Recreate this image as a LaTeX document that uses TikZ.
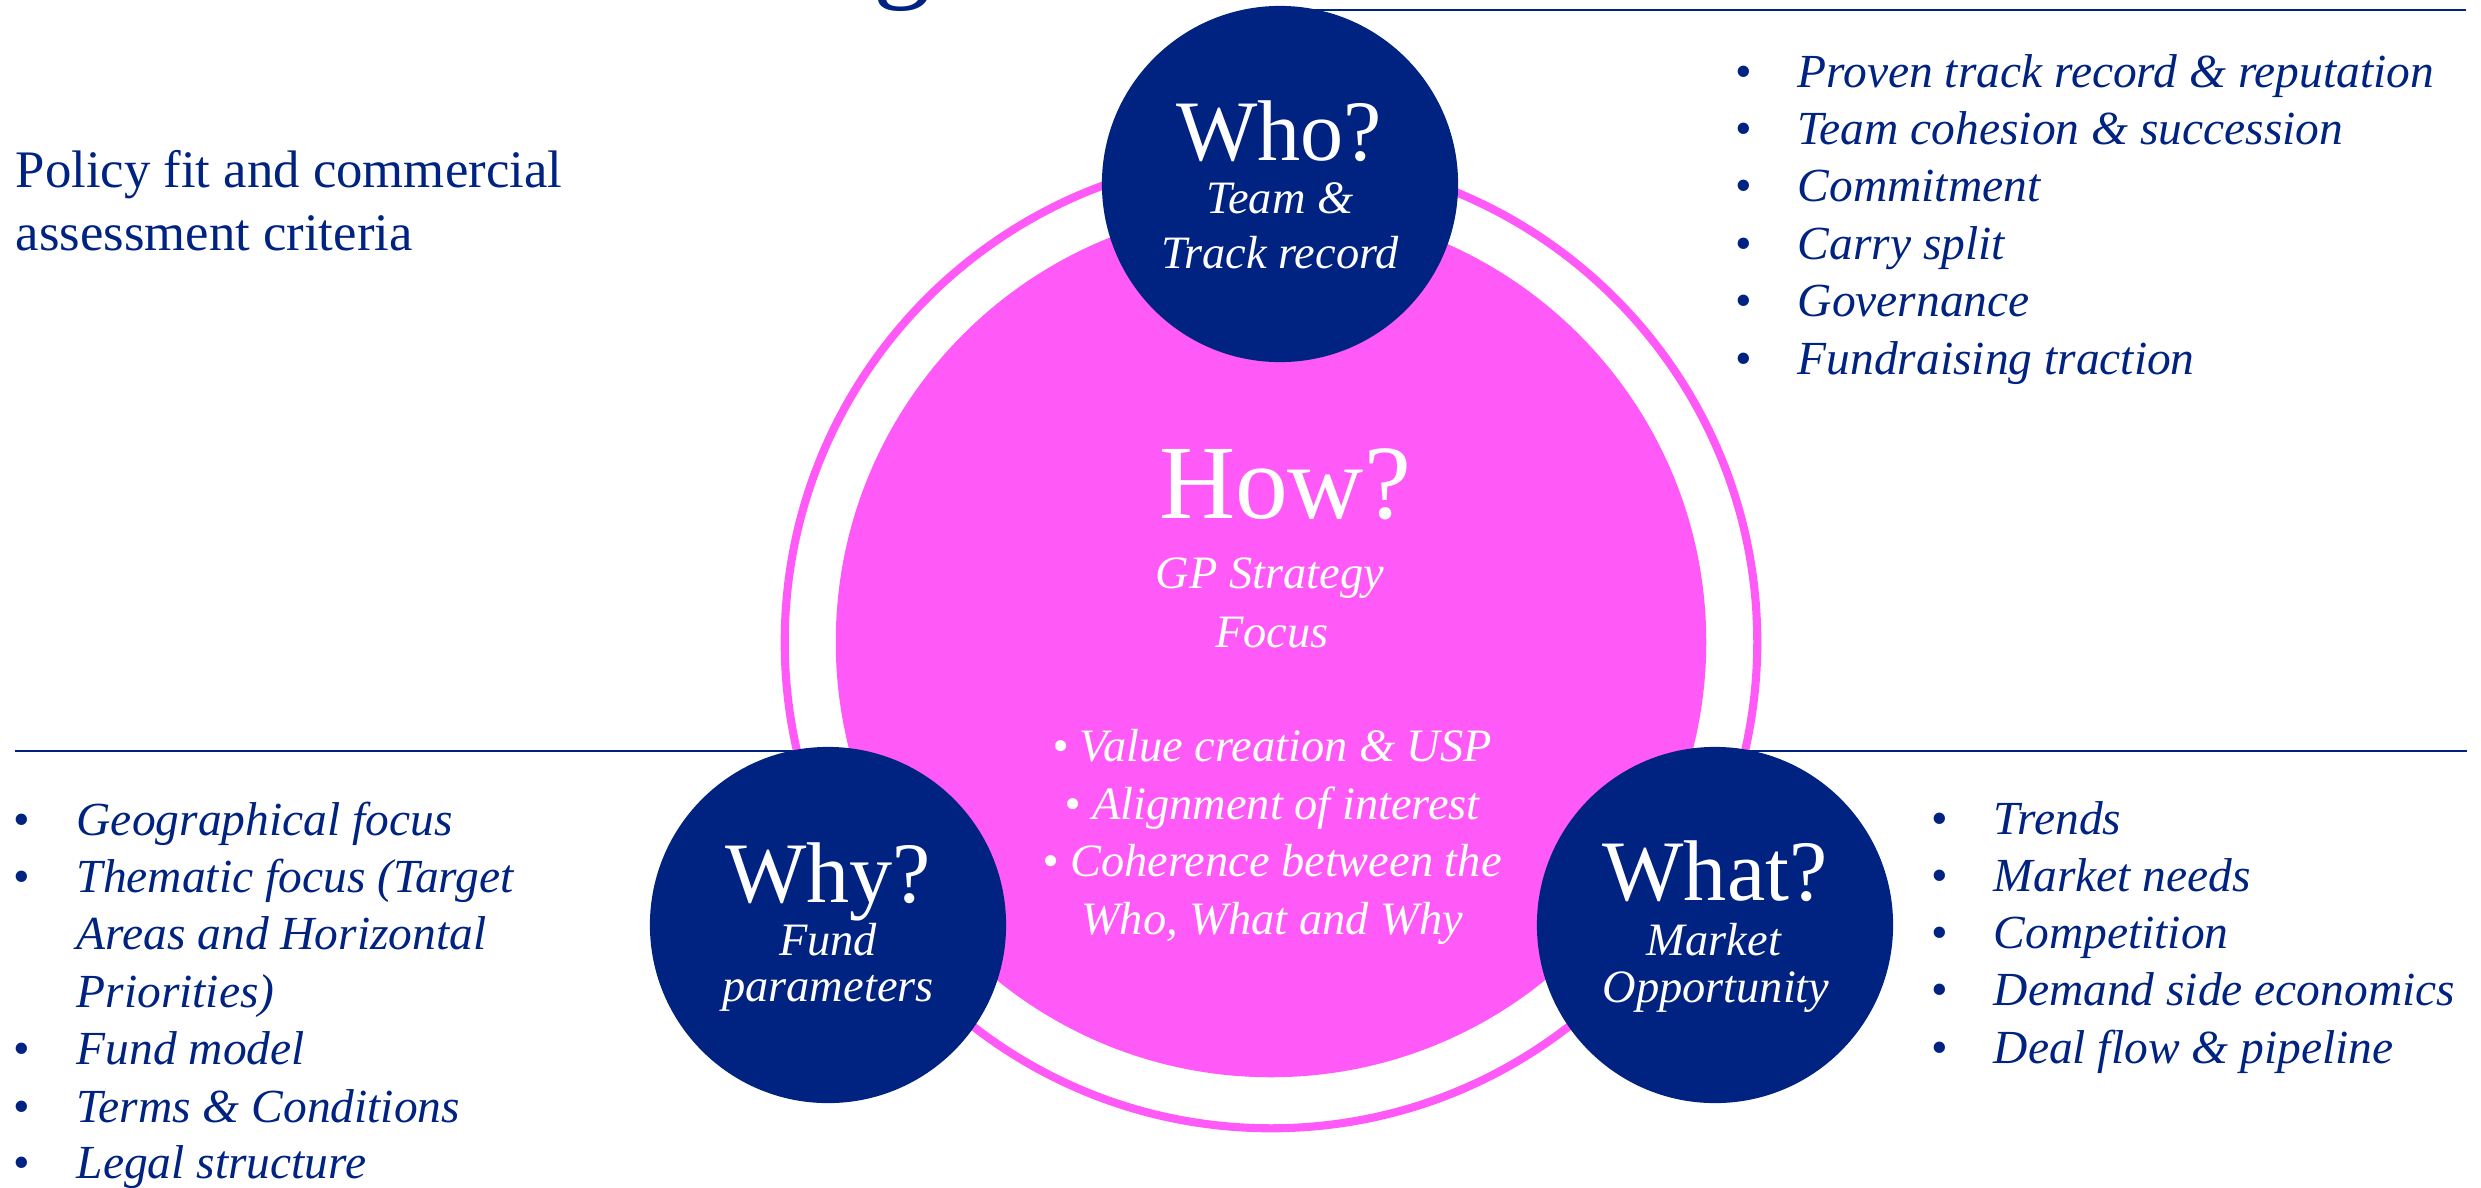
\documentclass[tikz,border=0pt]{standalone}
\usepackage{fontspec}
\setmainfont{Liberation Serif}
\definecolor{navy}{RGB}{0,34,128}
\definecolor{pinkc}{RGB}{255,90,248}
\tikzset{
  hub/.style={circle, fill=navy, minimum size=3.56cm, inner sep=0pt},
  bigq/.style={font=\fontsize{24.5}{29}\selectfont, text=white, anchor=base, inner sep=0pt},
  subq/.style={font=\fontsize{13.2}{16}\selectfont\itshape, text=white, anchor=base, inner sep=0pt},
  item/.style={font=\fontsize{13.5}{16}\selectfont\itshape, text=navy, anchor=base west, inner sep=0pt},
  dotb/.style={font=\fontsize{13.5}{16}\selectfont, text=navy, anchor=base, inner sep=0pt},
  heading/.style={font=\fontsize{15}{18}\selectfont, text=navy, anchor=base west, inner sep=0pt},
  rule/.style={draw=navy, line width=0.45pt}
}
\begin{document}
\begin{tikzpicture}[x=0.01cm,y=-0.01cm]
\useasboundingbox (0,0) rectangle (2481,1187);

% cut-off title glyph
\node[anchor=base, inner sep=0pt, font=\fontsize{33}{33}\selectfont, text=navy] (title) at (903,-14) {g};

% rules
\coordinate (ta) at (1280,10);
\coordinate (tb) at (2466,10);
\coordinate (la) at (15,751);
\coordinate (lb) at (900,751);
\coordinate (ra) at (1650,751);
\coordinate (rb) at (2467,751);
\draw[rule] (ta) -- (tb);
\draw[rule] (la) -- (lb);
\draw[rule] (ra) -- (rb);

% rings
\node[circle, draw=pinkc, fill=white, line width=2.3pt, minimum size=9.72cm, inner sep=0pt] (ring) at (1271,642) {};
\node[circle, fill=pinkc, minimum size=8.7cm, inner sep=0pt] (how) at (1271,642) {};

% hubs
\node[hub] (who) at (1280,184) {};
\node[hub] (why) at (828,925) {};
\node[hub] (what) at (1715,925) {};

% hub texts
\node[bigq] (whoq) at (1279,160) {Who?};
\node[subq] (who1) at (1280,213) {Team \&};
\node[subq] (who2) at (1280,268) {Track record};

\node[bigq, font=\fontsize{30}{36}\selectfont] (howq) at (1285,518) {How?};
\node[subq] (how1) at (1270,588) {GP Strategy};
\node[subq] (how2) at (1272,647) {Focus};
\node[subq] (how3) at (1272,761) {\textbullet\ Value creation \& USP};
\node[subq] (how4) at (1272,819) {\textbullet\ Alignment of interest};
\node[subq] (how5) at (1272,876) {\textbullet\ Coherence between the};
\node[subq] (how6) at (1272,934) {Who, What and Why};

\node[bigq] (whyq) at (828,902) {Why?};
\node[subq] (why1) at (828,955) {Fund};
\node[subq] (why2) at (828,1001) {parameters};

\node[bigq] (whatq) at (1715,900) {What?};
\node[subq] (what1) at (1714,955) {Market};
\node[subq] (what2) at (1716,1002) {Opportunity};

% heading
\node[heading] (h1) at (15,187) {Policy fit and commercial};
\node[heading] (h2) at (15,250) {assessment criteria};

% Who list
\node[dotb] (wb1) at (1744,87) {•};     \node[item] (wl1) at (1797,87) {Proven track record \& reputation};
\node[dotb] (wb2) at (1744,144.4) {•};  \node[item] (wl2) at (1797,144.4) {Team cohesion \& succession};
\node[dotb] (wb3) at (1744,201.8) {•};  \node[item] (wl3) at (1797,201.8) {Commitment};
\node[dotb] (wb4) at (1744,259.2) {•};  \node[item] (wl4) at (1797,259.2) {Carry split};
\node[dotb] (wb5) at (1744,316.6) {•};  \node[item] (wl5) at (1797,316.6) {Governance};
\node[dotb] (wb6) at (1744,374) {•};    \node[item] (wl6) at (1797,374) {Fundraising traction};

% Why list
\node[dotb] (yb1) at (22,835) {•};   \node[item] (yl1) at (76,835) {Geographical focus};
\node[dotb] (yb2) at (22,892) {•};   \node[item] (yl2) at (76,892) {Thematic focus (Target};
                                      \node[item] (yl3) at (76,949) {Areas and Horizontal};
                                      \node[item] (yl4) at (76,1007) {Priorities)};
\node[dotb] (yb5) at (22,1064) {•};  \node[item] (yl5) at (76,1064) {Fund model};
\node[dotb] (yb6) at (22,1122) {•};  \node[item] (yl6) at (76,1122) {Terms \& Conditions};
\node[dotb] (yb7) at (22,1178) {•};  \node[item] (yl7) at (76,1178) {Legal structure};

% What list
\node[dotb] (mb1) at (1940,834) {•};     \node[item] (ml1) at (1993,834) {Trends};
\node[dotb] (mb2) at (1940,891.25) {•};  \node[item] (ml2) at (1993,891.25) {Market needs};
\node[dotb] (mb3) at (1940,948.5) {•};   \node[item] (ml3) at (1993,948.5) {Competition};
\node[dotb] (mb4) at (1940,1005.75) {•}; \node[item] (ml4) at (1993,1005.75) {Demand side economics};
\node[dotb] (mb5) at (1940,1063) {•};    \node[item] (ml5) at (1993,1063) {Deal flow \& pipeline};
\end{tikzpicture}
\end{document}
